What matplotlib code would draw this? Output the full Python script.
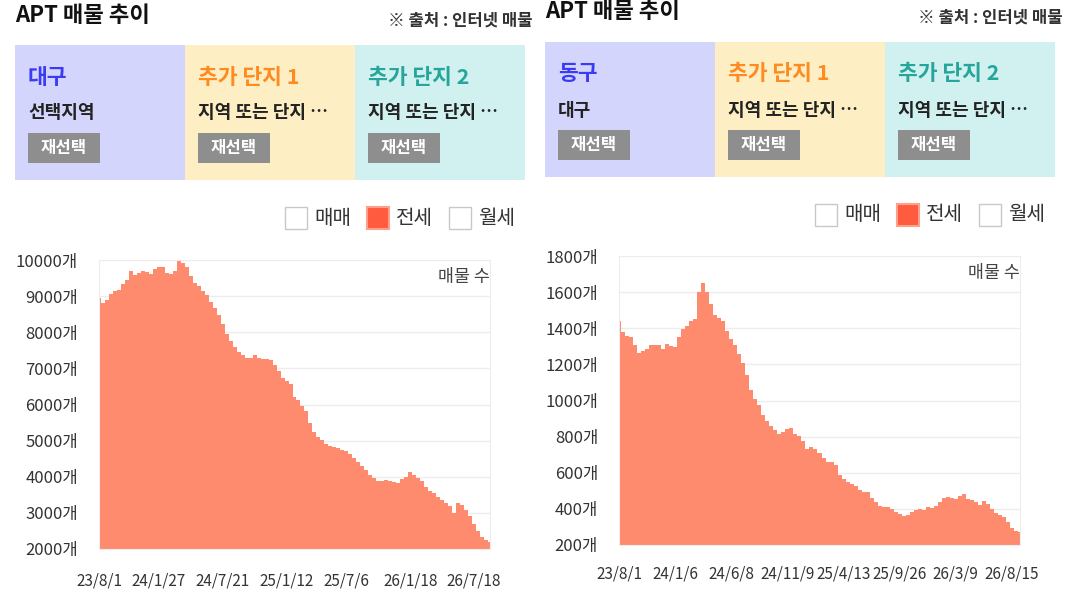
import matplotlib
matplotlib.use("Agg")
import matplotlib.pyplot as plt
from matplotlib.patches import Rectangle
import numpy as np

plt.rcParams['font.family'] = ['Noto Sans CJK KR', 'DejaVu Sans']

# 대구 전세 매물 수 (left)
left_vals = [8940, 8800, 8890, 9060, 9150, 9170, 9330, 9460, 9700, 9580,
             9650, 9700, 9680, 9600, 9740, 9820, 9820, 9650, 9620, 9700,
             9980, 9920, 9800, 9550, 9350, 9280, 9150, 9020, 8840, 8660,
             8480, 8230, 7950, 7750, 7600, 7450, 7380, 7280, 7290, 7380,
             7300, 7270, 7260, 7220, 7090, 6920, 6720, 6650, 6580, 6220,
             6130, 5960, 5820, 5480, 5240, 5100, 5020, 4920, 4850, 4820,
             4790, 4740, 4710, 4620, 4510, 4400, 4290, 4180, 4060, 3960,
             3870, 3870, 3900, 3890, 3860, 3830, 3950, 3990, 4120, 4050,
             3960, 3870, 3720, 3610, 3540, 3430, 3350, 3270, 3200, 2990,
             3270, 3230, 3080, 2900, 2700, 2490, 2340, 2250, 2200]
left_tick_idx = [0, 15, 31, 47, 62, 78, 94]
left_tick_labels = ['23/8/1', '24/1/27', '24/7/21', '25/1/12', '25/7/6', '26/1/18', '26/7/18']
left_yticks = [2000, 3000, 4000, 5000, 6000, 7000, 8000, 9000, 10000]

# 동구 전세 매물 수 (right)
right_vals = [1440, 1380, 1355, 1352, 1310, 1262, 1276, 1285, 1310, 1306,
              1306, 1285, 1314, 1302, 1296, 1350, 1395, 1412, 1440, 1453,
              1600, 1653, 1600, 1532, 1475, 1455, 1440, 1385, 1340, 1310,
              1260, 1205, 1140, 1060, 1011, 975, 920, 885, 858, 836,
              817, 825, 842, 845, 817, 803, 775, 732, 744, 730,
              712, 680, 661, 658, 642, 590, 565, 549, 535, 526,
              505, 495, 494, 462, 440, 418, 412, 408, 400, 384,
              372, 362, 368, 385, 394, 400, 395, 411, 404, 415,
              440, 460, 467, 459, 452, 470, 480, 457, 450, 436,
              424, 446, 428, 398, 375, 368, 354, 325, 296, 278, 274]
right_tick_idx = [0, 14, 28, 42, 56, 70, 84, 98]
right_tick_labels = ['23/8/1', '24/1/6', '24/6/8', '24/11/9', '25/4/13', '25/9/26', '26/3/9', '26/8/15']
right_yticks = [200, 400, 600, 800, 1000, 1200, 1400, 1600, 1800]

section_titles = ['추가 단지 1', '추가 단지 2']
section_colors = ['#FF8A1F', '#26A69A']
legend_labels = ['매매', '전세', '월세']

FILL = '#FF8B6F'
W, H = 1075, 595

fig = plt.figure(figsize=(W / 100, H / 100), dpi=100)
bg = fig.add_axes([0, 0, 1, 1])
bg.set_xlim(0, W)
bg.set_ylim(H, 0)
bg.axis('off')


def header(x0, y0, region, region_sub):
    # title and source
    bg.text(x0, y0 - 30, 'APT 매물 추이', fontsize=16, fontweight='bold', color='#111', va='center')
    bg.text(x0 + 518, y0 - 24, '※ 출처 : 인터넷 매물', fontsize=12, fontweight='bold', color='#333',
            va='center', ha='right')
    box_cols = ['#D3D5FD', '#FDEFC3', '#D1F1F1']
    names = [region] + section_titles
    cols = ['#3B3BF5'] + section_colors
    subs = [region_sub, '지역 또는 단지 …', '지역 또는 단지 …']
    for k in range(3):
        bx = x0 + k * 170
        bg.add_patch(Rectangle((bx, y0), 170, 135, fc=box_cols[k], ec='none'))
        tx = bx + 13
        bg.text(tx, y0 + 32, names[k], fontsize=15.5, fontweight='bold', color=cols[k], va='center')
        bg.text(tx, y0 + 68, subs[k], fontsize=13, fontweight='bold', color='#222', va='center')
        bg.add_patch(Rectangle((tx, y0 + 88), 72, 30, fc='#8E8E8E', ec='none'))
        bg.text(tx + 36, y0 + 103, '재선택', fontsize=12, fontweight='bold', color='white',
                va='center', ha='center')
    # legend checkboxes
    ly = y0 + 173
    for k, lab in enumerate(legend_labels):
        cx = x0 + 270 + k * 82
        if lab == '전세':
            bg.add_patch(Rectangle((cx, ly - 11), 22, 22, fc='#FF5B3F', ec='#FFA08C', lw=1.5))
        else:
            bg.add_patch(Rectangle((cx, ly - 11), 22, 22, fc='white', ec='#C8C8C8', lw=1))
        bg.text(cx + 29, ly, lab, fontsize=14.5, color='#333', va='center')


def chart(rect, vals, yticks, tick_idx, tick_labels, xpad):
    l, t, r, b = rect
    ax = fig.add_axes([l / W, 1 - b / H, (r - l) / W, (b - t) / H])
    x = np.arange(len(vals))
    ax.fill_between(x, vals, 0, color=FILL, lw=0, step='mid', zorder=2)
    ax.set_xlim(0, len(vals) - 1)
    ax.set_ylim(yticks[0], yticks[-1])
    ax.set_yticks(yticks)
    ax.set_yticklabels([f'{v}개' for v in yticks])
    ax.set_xticks(tick_idx)
    ax.set_xticklabels(tick_labels)
    ax.tick_params(axis='y', length=0, pad=15, labelsize=12, labelcolor='#333')
    ax.tick_params(axis='x', length=0, pad=xpad, labelsize=11, labelcolor='#333')
    ax.yaxis.grid(True, color='#EDEDED', lw=1)
    ax.set_axisbelow(True)
    for s in ax.spines.values():
        s.set_color('#EDEDED')
    ax.text(1.0, 0.94, '매물 수', transform=ax.transAxes, ha='right', va='center',
            fontsize=12.5, color='#444', zorder=3)
    return ax


header(15, 45, '대구', '선택지역')
header(545, 42, '동구', '대구')

chart((99, 260, 490, 549), left_vals, left_yticks, left_tick_idx, left_tick_labels, 17)
chart((619, 256, 1020, 545), right_vals, right_yticks, right_tick_idx, right_tick_labels, 15)

fig.savefig('out.png', dpi=100)
